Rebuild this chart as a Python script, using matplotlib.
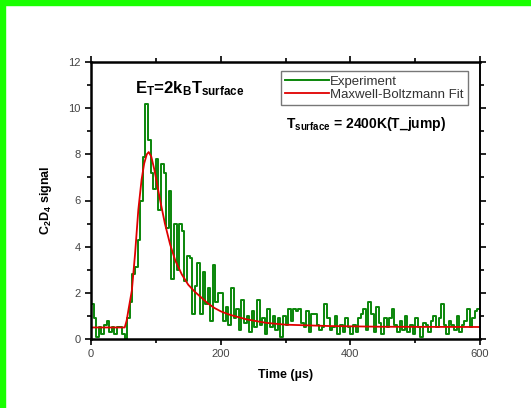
import numpy as np
import matplotlib
matplotlib.use("Agg")
import matplotlib.pyplot as plt
from matplotlib.patches import Rectangle
from matplotlib.ticker import MultipleLocator

plt.rcParams["font.family"] = ["Liberation Sans", "DejaVu Sans"]
plt.rcParams["mathtext.fontset"] = "custom"
plt.rcParams["mathtext.rm"] = "Liberation Sans:bold"
plt.rcParams["mathtext.it"] = "Liberation Sans:bold"
plt.rcParams["mathtext.bf"] = "Liberation Sans:bold"
plt.rcParams["mathtext.default"] = "rm"

# measured signal, 4 us bins starting at t = 0
bin_width = 4
signal = [
    1.5, 0.9, 0.1, 0.5, 0.2, 0.6, 0.8, 0.3, 0.5, 0.2,
    0.5, 0.5, 0.2, 0.0, 0.9, 1.6, 2.8, 3.1, 4.3, 6.0,
    7.9, 10.2, 8.6, 7.2, 6.5, 7.8, 5.6, 7.6, 7.2, 4.8,
    6.4, 2.6, 5.0, 3.0, 5.0, 4.7, 2.5, 3.6, 3.5, 1.1,
    2.3, 3.3, 1.1, 2.9, 1.5, 2.2, 0.8, 3.2, 1.6, 2.0,
    2.0, 0.8, 1.4, 0.6, 2.2, 0.9, 1.3, 0.4, 1.7, 0.7,
    1.0, 0.3, 1.2, 0.5, 1.7, 0.6, 0.9, 0.2, 1.3, 0.5,
    1.0, 0.4, 0.9, 0.1, 1.0, 0.6, 1.3, 0.8, 1.3, 1.2,
    1.3, 0.7, 0.5, 1.2, 0.3, 1.1, 1.1, 0.6, 0.4, 0.5,
    1.5, 0.9, 0.4, 0.5, 1.0, 0.2, 0.6, 0.3, 0.9, 0.5,
    0.2, 0.6, 0.3, 0.9, 1.1, 1.3, 0.4, 1.6, 1.1, 0.3,
    1.4, 0.7, 0.2, 0.9, 0.5, 0.9, 1.3, 0.6, 0.3, 0.8,
    0.4, 1.0, 0.3, 0.6, 0.2, 0.9, 0.5, 0.1, 0.7, 0.6,
    0.3, 0.8, 1.0, 0.5, 0.9, 1.5, 0.6, 0.2, 0.8, 0.6,
    0.4, 1.0, 0.3, 0.6, 0.8, 1.3, 0.5, 0.9, 1.2, 1.3,
]
time = np.arange(len(signal)) * bin_width

# Maxwell-Boltzmann fit
fit_t = [0, 52, 55, 58, 63, 68, 73, 78, 82, 86, 89, 93, 98, 106, 114, 122,
         130, 140, 150, 160, 170, 180, 190, 200, 214, 240, 270, 300, 370,
         450, 600]
fit_v = [0.5, 0.5, 0.8, 1.3, 2.1, 3.7, 5.6, 6.9, 7.6, 8.0, 8.1, 7.9, 7.3,
         6.1, 5.0, 4.1, 3.4, 2.8, 2.35, 2.05, 1.8, 1.55, 1.35, 1.2, 1.05,
         0.85, 0.7, 0.62, 0.56, 0.53, 0.52]

fig = plt.figure(figsize=(5.31, 4.08), dpi=100)
fig.patches.append(Rectangle((0, 0), 5 / 531, 1, transform=fig.transFigure,
                             color="#19ff00", zorder=0))
fig.patches.append(Rectangle((0, 1 - 5 / 408), 1, 5 / 408, transform=fig.transFigure,
                             color="#19ff00", zorder=0))

ax = fig.add_axes([91 / 531, 69 / 408, 389 / 531, 277 / 408])
ax.step(np.append(time, 600), np.append(signal, signal[-1]), where="post",
        color="#0a860a", lw=1.4, label="Experiment")
ax.plot(fit_t, fit_v, color="#e00000", lw=1.3, label="Maxwell-Boltzmann Fit")

ax.set_xlim(0, 600)
ax.set_ylim(0, 12)
ax.xaxis.set_major_locator(MultipleLocator(200))
ax.xaxis.set_minor_locator(MultipleLocator(100))
ax.yaxis.set_major_locator(MultipleLocator(2))
ax.yaxis.set_minor_locator(MultipleLocator(1))
ax.tick_params(which="both", direction="out", top=True, right=True,
               labelsize=8, labelcolor="#444444", width=1.2)
ax.tick_params(which="major", length=4)
ax.tick_params(which="minor", length=3)
for side in ["top", "bottom", "left"]:
    ax.spines[side].set_linewidth(1.8)
ax.spines["right"].set_linewidth(1.4)

ax.set_xlabel("Time (\u00b5s)", fontsize=9, fontweight="bold", labelpad=7)
ax.set_ylabel("C$_2$D$_4$ signal", fontsize=9, fontweight="bold", labelpad=10)

ax.text(0.113, 0.905, "E$_T$=2k$_B$T$_{surface}$", transform=ax.transAxes,
        fontsize=12, fontweight="bold", va="center")
ax.text(0.5, 0.775, "T$_{surface}$ = 2400K(T_jump)", transform=ax.transAxes,
        fontsize=10, fontweight="bold", va="center")

leg = ax.legend(loc="upper right", bbox_to_anchor=(0.985, 0.99), fontsize=9.5,
                frameon=True, fancybox=False, handlelength=3.3,
                handletextpad=0.1, borderpad=0.3, labelspacing=0.1)
leg.get_frame().set_edgecolor("#555555")
leg.get_frame().set_linewidth(1.0)
for txt in leg.get_texts():
    txt.set_color("#333333")

fig.savefig("out.png", dpi=100)
